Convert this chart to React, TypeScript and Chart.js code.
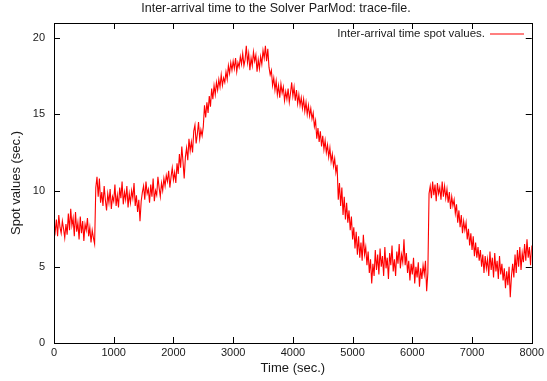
import React, { useEffect, useRef } from "react";
import { Chart, registerables } from "chart.js";

Chart.register(...registerables);

const TITLE = "Inter-arrival time to the Solver ParMod: trace-file.";
const SERIES_LABEL = "Inter-arrival time spot values.";
const X_TITLE = "Time (sec.)";
const Y_TITLE = "Spot values (sec.)";
const SAMPLE_STEP = 20; // seconds between samples
const X_TICKS = [0, 1000, 2000, 3000, 4000, 5000, 6000, 7000, 8000];
const Y_TICKS = [0, 5, 10, 15, 20];

const spotValues = [
  // 0 - 680 s
  7.9, 7.3, 8.1, 7.0, 8.4, 7.6, 7.2, 8.0, 7.5, 6.9, 7.8, 7.1, 8.5, 7.4, 8.8, 7.7, 8.2, 7.0, 8.6, 7.3,
  7.9, 6.8, 8.3, 7.2, 8.0, 6.7, 7.8, 7.4, 8.2, 7.0, 7.6, 6.6, 7.4, 6.9, 6.5,
  // 700 - 780 s
  10.2, 10.9, 9.6, 10.8, 9.2,
  // 800 - 1480 s
  9.9, 9.0, 10.3, 9.4, 8.7, 9.8, 9.2, 10.1, 8.8, 9.6, 9.3, 10.4, 9.0, 9.7, 8.9, 10.2, 9.5, 10.6, 9.1, 9.9,
  9.4, 10.3, 8.9, 9.8, 9.2, 10.0, 9.5, 10.5, 9.0, 9.7, 8.6, 9.4, 8.0, 9.3, 9.9,
  // 1500 - 1880 s
  10.3, 9.4, 10.6, 9.8, 10.1, 9.2, 10.4, 9.6, 10.8, 9.3, 10.0, 9.7, 10.9, 10.2, 9.6, 10.5, 10.0, 10.8, 10.3, 11.0,
  // 1900 - 2280 s
  10.6, 11.3, 10.2, 10.9, 11.5, 10.7, 11.2, 10.5, 11.8, 11.1, 12.4, 11.5, 12.9, 11.9, 10.8, 12.2, 12.8, 12.0, 13.4, 12.6,
  // 2300 - 2680 s
  13.2, 12.5, 13.9, 14.3, 13.1, 13.7, 14.5, 13.4, 14.0, 13.6, 14.2, 15.6, 14.8, 15.8, 15.1, 16.2, 15.5, 16.7, 16.0, 16.9,
  // 2700 - 3080 s
  16.3, 17.1, 16.6, 17.3, 16.8, 17.6, 16.9, 17.4, 17.1, 17.8, 17.3, 18.2, 17.7, 18.4, 17.9, 18.5, 18.0, 18.7, 17.8, 18.4,
  // 3100 - 3480 s
  18.1, 18.8, 18.3, 19.0, 18.2, 18.6, 19.5, 18.4, 19.0, 17.9, 18.7, 18.2, 19.1, 18.5, 18.9, 17.8, 18.6, 18.0, 18.8, 18.3,
  // 3500 - 3880 s
  19.2, 18.7, 19.5, 18.5, 19.3, 18.1, 17.6, 17.9, 16.9, 17.4, 16.6, 17.2, 16.3, 16.9, 16.1, 17.0, 16.4, 16.8, 15.9, 16.5,
  // 3900 - 4280 s
  16.0, 16.7, 15.8, 16.4, 17.1, 16.2, 16.8, 15.9, 16.6, 15.7, 16.3, 15.6, 16.1, 15.4, 16.0, 15.2, 15.8, 15.0, 15.6, 14.9,
  // 4300 - 4680 s
  15.4, 14.7, 15.1, 14.2, 14.6, 13.4, 14.1, 13.2, 13.9, 12.9, 13.6, 12.7, 13.3, 12.5, 13.0, 12.2, 12.8, 11.9, 12.4, 11.6,
  // 4700 - 5080 s
  12.1, 11.2, 11.7, 9.4, 10.5, 9.0, 10.2, 8.4, 9.6, 8.1, 9.2, 7.9, 8.7, 7.4, 8.3, 6.8, 7.6, 6.2, 7.3, 5.8,
  // 5100 - 5480 s
  7.0, 5.6, 6.6, 5.4, 7.1, 5.8, 6.3, 5.1, 6.0, 4.6, 5.5, 3.9, 5.2, 4.4, 6.1, 4.8, 5.8, 4.5, 6.2, 5.0,
  // 5500 - 5880 s
  5.7, 4.4, 6.3, 4.9, 5.6, 4.2, 5.9, 5.1, 6.4, 4.7, 5.5, 4.4, 6.0, 5.2, 6.5, 4.9, 5.8, 5.3, 6.8, 5.1,
  // 5900 - 6280 s
  5.9, 4.6, 5.4, 4.1, 5.2, 4.5, 5.6, 3.9, 5.0, 4.3, 5.3, 3.7, 4.9, 4.2, 5.1, 4.5, 5.4, 3.4, 4.6, 9.8,
  // 6300 - 6680 s
  10.3, 9.5, 10.6, 9.7, 10.4, 9.3, 10.5, 9.8, 10.2, 9.4, 10.6, 9.6, 10.3, 9.5, 10.1, 9.2, 9.9, 8.8, 9.6, 9.0,
  // 6700 - 7080 s
  9.4, 8.5, 9.1, 7.9, 8.7, 7.6, 8.4, 7.2, 8.0, 7.4, 7.9, 6.8, 7.5, 6.4, 7.2, 6.1, 7.0, 5.7, 6.6, 5.6,
  // 7100 - 7480 s
  6.3, 5.4, 6.1, 5.0, 5.8, 4.6, 5.7, 4.9, 5.5, 4.4, 6.0, 4.8, 5.6, 4.3, 5.9, 4.7, 5.4, 4.2, 5.7, 4.5,
  // 7500 - 7880 s
  5.2, 4.1, 4.9, 3.6, 4.7, 3.8, 5.0, 3.0, 4.4, 5.2, 4.3, 5.8, 4.6, 6.1, 5.0, 6.3, 4.8, 5.9, 5.3, 6.5,
  // 7900 - 8000 s
  5.4, 6.8, 5.6, 6.3, 5.1, 6.4,
];

const FONT = "'Liberation Sans', Arial, Helvetica, sans-serif";
const TEXT_COLOR = "#1a1a1a";

const framePlugin = {
  id: "gnuplotFrame",
  afterDatasetsDraw(chart: any) {
    const { ctx, chartArea } = chart;
    const { left, right, top, bottom } = chartArea;
    const xs = chart.scales.x;
    const ys = chart.scales.y;
    ctx.save();
    ctx.strokeStyle = "#000";
    ctx.lineWidth = 1;
    const tl = 6;
    ctx.beginPath();
    for (const v of X_TICKS) {
      const px = Math.round(xs.getPixelForValue(v)) + 0.5;
      ctx.moveTo(px, bottom);
      ctx.lineTo(px, bottom - tl);
      ctx.moveTo(px, top);
      ctx.lineTo(px, top + tl);
    }
    for (const v of Y_TICKS) {
      const py = Math.round(ys.getPixelForValue(v)) + 0.5;
      ctx.moveTo(left, py);
      ctx.lineTo(left + tl, py);
      ctx.moveTo(right, py);
      ctx.lineTo(right - tl, py);
    }
    ctx.stroke();
    ctx.strokeRect(Math.round(left) + 0.5, Math.round(top) + 0.5, Math.round(right - left), Math.round(bottom - top));

    // title
    ctx.fillStyle = TEXT_COLOR;
    ctx.font = `12.5px ${FONT}`;
    ctx.textAlign = "center";
    ctx.textBaseline = "middle";
    ctx.fillText(TITLE, 276, 9);

    // legend
    ctx.font = `11.5px ${FONT}`;
    ctx.textAlign = "right";
    ctx.fillText(SERIES_LABEL, 485, 34);
    ctx.strokeStyle = "#ff0000";
    ctx.lineWidth = 1.2;
    ctx.beginPath();
    ctx.moveTo(490, 34);
    ctx.lineTo(524, 34);
    ctx.stroke();
    ctx.restore();
  },
};

export default function App() {
  const ref = useRef<HTMLCanvasElement | null>(null);

  useEffect(() => {
    if (!ref.current) return;
    const points = spotValues.map((v, i) => ({ x: i * SAMPLE_STEP, y: v }));
    const chart = new Chart(ref.current, {
      type: "line",
      data: {
        datasets: [
          {
            label: SERIES_LABEL,
            data: points,
            borderColor: "#ff0000",
            borderWidth: 1.1,
            pointRadius: 0,
            tension: 0,
            fill: false,
          },
        ],
      },
      options: {
        animation: false,
        responsive: false,
        maintainAspectRatio: false,
        layout: { padding: { left: 0, right: 12, top: 23, bottom: 0 } },
        plugins: { legend: { display: false }, title: { display: false }, tooltip: { enabled: false } },
        scales: {
          x: {
            type: "linear",
            min: 0,
            max: 8000,
            afterFit: (s: any) => { s.height = 38; },
            afterBuildTicks: (s: any) => { s.ticks = X_TICKS.map((v) => ({ value: v })); },
            grid: { display: false, drawTicks: false },
            border: { display: false },
            ticks: {
              padding: 3,
              color: TEXT_COLOR,
              font: { family: FONT, size: 11 },
              maxRotation: 0,
              autoSkip: false,
              callback: (v: any) => String(v),
            },
            title: { display: true, text: X_TITLE, color: TEXT_COLOR, font: { family: FONT, size: 13 }, padding: { top: 0, bottom: 5 } },
          },
          y: {
            type: "linear",
            min: 0,
            max: 21,
            afterFit: (s: any) => { s.width = 54; },
            afterBuildTicks: (s: any) => { s.ticks = Y_TICKS.map((v) => ({ value: v })); },
            grid: { display: false, drawTicks: false },
            border: { display: false },
            ticks: { padding: 9, color: TEXT_COLOR, font: { family: FONT, size: 11 }, callback: (v: any) => String(v) },
            title: { display: true, text: Y_TITLE, color: TEXT_COLOR, font: { family: FONT, size: 13 }, padding: { top: 9, bottom: 0 } },
          },
        },
      },
      plugins: [framePlugin],
    });
    return () => chart.destroy();
  }, []);

  return (
    <div style={{ position: "fixed", left: 0, top: 0, width: 547, height: 381, background: "#fff" }}>
      <canvas ref={ref} width={547} height={381} style={{ display: "block", width: 547, height: 381 }} />
    </div>
  );
}
